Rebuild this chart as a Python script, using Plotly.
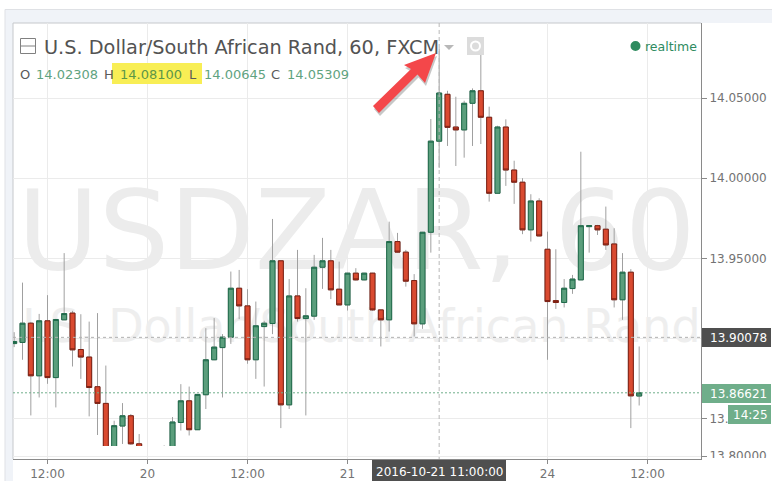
import plotly.graph_objects as go

W, H = 772, 481
FONT = "DejaVu Sans"

# bar index (hours from 2016-10-19 12:00, trading hours only)
bars = list(range(-4, 72))
opens = [13.8969,13.8976,13.9096,13.8768,13.9111,13.8757,13.9117,13.9159,13.8932,13.8885,13.8700,13.8596,13.8245,13.8455,13.8519,13.8344,
         13.8232,13.8205,13.8240,13.8275,13.8477,13.8612,13.8432,13.8650,13.8868,13.8944,13.9009,13.9314,13.9204,13.8868,13.9075,13.9094,
         13.9485,13.8587,13.9266,13.9125,13.9140,13.9445,13.9485,13.9308,13.9210,13.9408,13.9366,13.9408,13.9179,13.9117,13.9605,13.9539,
         13.9362,13.9092,13.9663,14.02308,14.0523,14.0319,14.0301,14.0467,14.0545,14.0380,13.9906,14.0319,14.0051,13.9975,13.9678,13.9858,
         13.9557,13.9237,13.9225,13.9312,13.9366,13.9698,13.9704,13.9682,13.9590,13.9242,13.9414,13.8642]
highs = [13.9040,13.9349,13.9104,13.9154,13.9271,13.9123,13.9533,13.9173,13.9152,13.9106,13.9159,13.8832,13.8488,13.8598,13.8530,13.8405,
         13.8245,13.8290,13.8334,13.8511,13.8716,13.8701,13.8655,13.9065,13.9128,13.9028,13.9418,13.9428,13.9308,13.9231,13.9111,13.9746,
         13.9490,13.9371,13.9553,13.9314,13.9522,13.9628,13.9553,13.9480,13.9410,13.9439,13.9410,13.9410,13.9181,13.9729,13.9659,13.9553,
         13.9402,13.9665,14.0369,14.08100,14.0545,14.0508,14.0483,14.0560,14.0768,14.0446,14.0327,14.0367,14.0109,14.0000,13.9900,13.9875,
         13.9667,13.9557,13.9371,13.9397,14.0165,13.9708,13.9709,13.9823,13.9688,13.9533,13.9433,13.8951]
lows = [13.8947,13.8868,13.8521,13.8633,13.8718,13.8571,13.9117,13.8826,13.8749,13.8515,13.8399,13.8182,13.8195,13.8343,13.8338,13.8170,
        13.8150,13.8170,13.8200,13.8230,13.8427,13.8396,13.8432,13.8561,13.8866,13.8633,13.8967,13.9121,13.8843,13.8749,13.8701,13.9028,
        13.8442,13.8561,13.9106,13.8521,13.9117,13.9310,13.9246,13.9210,13.9175,13.9362,13.9364,13.9173,13.8951,13.9044,13.9534,13.9324,
        13.9013,13.9061,13.9536,14.00645,14.0201,14.0076,14.0128,14.0201,14.0213,13.9854,13.9906,13.9952,13.9840,13.9651,13.9605,13.9637,
        13.8868,13.9185,13.9194,13.9279,13.9366,13.9536,13.9646,13.9553,13.9194,13.9117,13.8442,13.8583]
closes = [13.8982,13.9096,13.8768,13.9111,13.8757,13.9119,13.9156,13.8930,13.8885,13.8695,13.8596,13.8245,13.8457,13.8519,13.8344,13.8232,
          13.8205,13.8240,13.8275,13.8480,13.8612,13.8432,13.8652,13.8868,13.8947,13.9009,13.9314,13.9204,13.8868,13.9080,13.9096,13.9485,
          13.8587,13.9266,13.9125,13.9142,13.9445,13.9485,13.9304,13.9210,13.9408,13.9366,13.9408,13.9179,13.9117,13.9605,13.9539,13.9358,
          13.9092,13.9663,14.0231,14.05309,14.0317,14.0301,14.0467,14.0545,14.0380,13.9906,14.0319,14.0051,13.9975,13.9678,13.9858,13.9640,
          13.9231,13.9225,13.9314,13.9371,13.9704,13.9704,13.9678,13.9584,13.9242,13.9414,13.8643,13.8662]

x_tick_vals = [0, 12, 24, 36, 60, 72]
x_tick_text = ["12:00", "20", "12:00", "21", "24", "12:00"]
y_tick_vals = [14.05, 14.00, 13.95, 13.90, 13.85, 13.8268]
y_tick_text = ["14.05000", "14.00000", "13.95000", "", "13.", "13.80000"]
last_price = 13.86621
prev_close = 13.90078
cross_bar = 47
title = "U.S. Dollar/South African Rand, 60, FXCM"

# pixel geometry
L, R, T, B, CLIP = 13, 701, 23, 459, 446
PX_PER_BAR = 100 / 12
PX_PER_UNIT = 1604
def px(x): return x / W
def py(y): return 1 - y / H
def bx(x): return (x - 47.5) / PX_PER_BAR
def pv(y): return 14.05 - (y - 98) / PX_PER_UNIT

xr = [bx(L), bx(R)]

body_high = [max(o, c) for o, c in zip(opens, closes)]
body_low = [min(o, c) for o, c in zip(opens, closes)]

GRAY = "#a0a0a0"
fig = go.Figure()
# watermark lives in the lower subplot so that candles sit on top of it
fig.add_trace(go.Scatter(x=[bx(356.5), bx(351)], y=[pv(241), pv(330)], mode="text",
                         text=["USDZAR, 60", "U.S. Dollar/South African Rand"],
                         textfont=dict(family=FONT, size=[111, 46], color=["#ececec", "#eeeeee"]),
                         textposition="middle center", hoverinfo="skip", showlegend=False,
                         xaxis="x", yaxis="y"))
fig.add_trace(go.Candlestick(x=bars, open=opens, high=highs, low=lows, close=closes, xaxis="x2", yaxis="y2",
                             whiskerwidth=0, showlegend=False, hoverinfo="skip",
                             increasing=dict(line=dict(color=GRAY, width=1), fillcolor=GRAY),
                             decreasing=dict(line=dict(color=GRAY, width=1), fillcolor=GRAY)))
fig.add_trace(go.Candlestick(x=bars, open=opens, high=body_high, low=body_low, close=closes, xaxis="x2", yaxis="y2",
                             whiskerwidth=0, showlegend=False, hoverinfo="skip",
                             increasing=dict(line=dict(color="#1f6b4b", width=1), fillcolor="#5b9e7c"),
                             decreasing=dict(line=dict(color="#7d2013", width=1), fillcolor="#d94a30")))

def rect(x0, y0, x1, y1, fill, line=None, layer="above"):
    return dict(type="rect", xref="paper", yref="paper", x0=px(x0), x1=px(x1), y0=py(y0), y1=py(y1),
                fillcolor=fill, line=dict(width=1 if line else 0, color=line or fill), layer=layer)

def path(points, fill, opacity=1):
    d = "M " + " L ".join(f"{px(a):.5f},{py(b):.5f}" for a, b in points) + " Z"
    return dict(type="path", xref="paper", yref="paper", path=d, fillcolor=fill, opacity=opacity,
                line=dict(width=0), layer="above")

arrow = [(436, 53), (425, 83), (417.5, 74.5), (379, 113), (373, 106), (411, 69), (404, 65)]
shadow = [(a + 1, b + 3) for a, b in arrow]

shapes = [
    rect(5, 9, W, T, "#f0f3f8", layer="below"),
    rect(5, 9, L, H, "#f0f3f8", layer="below"),
    dict(type="line", xref="paper", yref="paper", x0=px(5), x1=px(W), y0=py(9.5), y1=py(9.5),
         line=dict(color="#dfe1e5", width=1), layer="below"),
    dict(type="line", xref="paper", yref="paper", x0=px(5), x1=px(5), y0=py(9.5), y1=0,
         line=dict(color="#dfe1e5", width=1), layer="below"),
    dict(type="line", xref="paper", yref="paper", x0=px(L), x1=px(R), y0=py(T), y1=py(T),
         line=dict(color="#c6c8cc", width=1), layer="below"),
    dict(type="line", xref="paper", yref="paper", x0=px(L), x1=px(L), y0=py(T), y1=py(B),
         line=dict(color="#c6c8cc", width=1), layer="below"),
    # price lines and crosshair
    dict(type="line", xref="x2", yref="y2", x0=xr[0], x1=xr[1], y0=prev_close, y1=prev_close,
         line=dict(color="#b0b0b0", width=1, dash="3px,3px"), layer="above"),
    dict(type="line", xref="x2", yref="y2", x0=xr[0], x1=xr[1], y0=last_price, y1=last_price,
         line=dict(color="#6fae8a", width=1, dash="2px,2px"), layer="above"),
    dict(type="line", xref="x2", yref="paper", x0=cross_bar, x1=cross_bar, y0=py(T), y1=py(B),
         line=dict(color="#b8b8b8", width=1, dash="4px,3px"), layer="above"),
    # cover below the axis corner (cuts the bottom tick label)
    rect(702, 458, W, H, "#ffffff"),
    # highlight
    rect(112, 63, 202, 84, "#f8ee55"),
    # legend icons
    rect(20.5, 38.5, 35.5, 53.5, "rgba(0,0,0,0)", "#808080"),
    dict(type="line", xref="paper", yref="paper", x0=px(21), x1=px(35), y0=py(46), y1=py(46),
         line=dict(color="#808080", width=1), layer="above"),
    path([(444, 45), (454, 45), (449, 50)], "#b8b8b8"),
    rect(467, 37, 484, 55, "#dcdcdc"),
    dict(type="circle", xref="paper", yref="paper", x0=px(471), x1=px(480), y0=py(41.5), y1=py(50.5),
         fillcolor="rgba(0,0,0,0)", line=dict(color="#ffffff", width=2), layer="above"),
    dict(type="circle", xref="paper", yref="paper", x0=px(630.5), x1=px(640.5), y0=py(41), y1=py(51),
         fillcolor="#2e8b5f", line=dict(width=0), layer="above"),
    # axis labels in boxes
    rect(702, 328, 771, 347, "#4f4f4f"),
    rect(702, 384, 771, 403, "#6fae8a"),
    rect(728, 405, 771, 424, "#6fae8a"),
    rect(372, 460, 506, H, "#4f4f4f"),
    # arrow
    path(shadow, "#000000", 0.22),
    path(arrow, "#f4474a"),
]

def note(x, y, text, color, size=13, anchor="left"):
    return dict(xref="paper", yref="paper", x=px(x), y=py(y), text=text, showarrow=False, xanchor=anchor,
                yanchor="middle", font=dict(family=FONT, size=size, color=color), borderpad=0, borderwidth=0)

LABEL = "#5a5a5a"
VAL = "#5fa37f"
annotations = [
    note(44, 47, title, "#535353", 19.3),
    note(20, 74, "O", LABEL), note(36, 74, "14.02308", VAL),
    note(104, 74, "H", LABEL), note(120, 74, "14.08100", "#5c9648"),
    note(189, 74, "L", LABEL), note(204, 74, "14.00645", VAL),
    note(271, 74, "C", LABEL), note(287, 74, "14.05309", VAL),
    note(645, 46, "realtime", "#2e8b5f", 12.5),
    note(710, 337.5, "13.90078", "#ffffff", 12),
    note(710, 393.5, "13.86621", "#ffffff", 12),
    note(733, 414.5, "14:25", "#ffffff", 12),
    note(439, 472, "2016-10-21 11:00:00", "#ffffff", 12, "center"),
]

fig.update_layout(
    width=W, height=H, autosize=False, margin=dict(l=0, r=0, t=0, b=0, autoexpand=False),
    paper_bgcolor="#ffffff", plot_bgcolor="rgba(0,0,0,0)", showlegend=False, hovermode=False,
    boxmode="overlay", boxgap=0.4, boxgroupgap=0,
    shapes=shapes, annotations=annotations,
    xaxis=dict(domain=[px(L), px(R)], range=xr, anchor="y", tickmode="array", tickvals=x_tick_vals,
               ticktext=x_tick_text, ticks="outside", ticklen=4, tickcolor="#8a8a8a",
               tickfont=dict(family=FONT, size=12, color="#737373"), showgrid=True, gridcolor="#ebebeb",
               gridwidth=1, zeroline=False, showline=True, linecolor="#8a8a8a", linewidth=1),
    yaxis=dict(domain=[py(B), py(T)], range=[pv(B), pv(T)], anchor="x", side="right", tickmode="array",
               tickvals=y_tick_vals, ticktext=y_tick_text, ticks="outside", ticklen=5, tickcolor="#8a8a8a",
               tickfont=dict(family=FONT, size=12, color="#737373"), showgrid=True, gridcolor="#ebebeb",
               gridwidth=1, zeroline=False, showline=True, linecolor="#8a8a8a", linewidth=1),
    xaxis2=dict(domain=[px(L), px(R)], range=xr, anchor="y2", visible=False, rangeslider=dict(visible=False)),
    yaxis2=dict(domain=[py(CLIP), py(T)], range=[pv(CLIP), pv(T)], anchor="x2", visible=False),
)

fig.write_html("out.html", config=dict(displayModeBar=False, responsive=False),
               post_script="document.body.style.margin='0';document.body.style.overflow='hidden';")
